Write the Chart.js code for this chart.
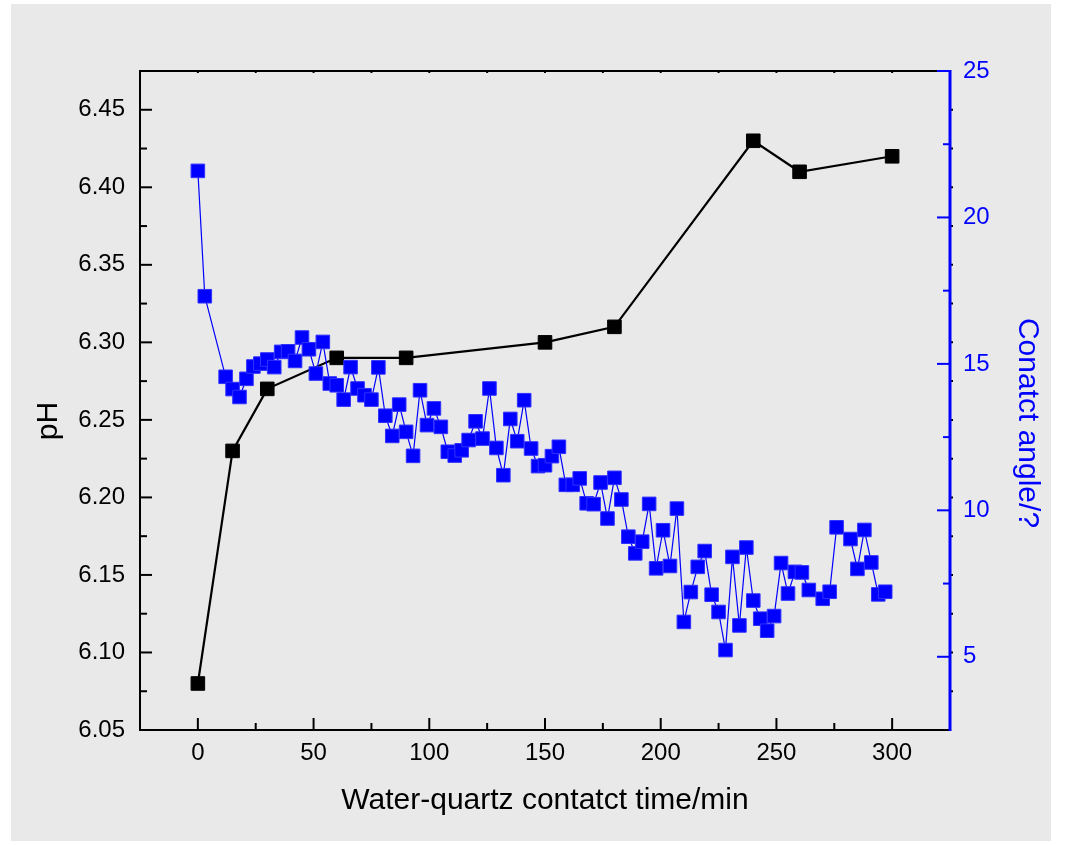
<!DOCTYPE html>
<html>
<head>
<meta charset="utf-8">
<script src="https://cdn.jsdelivr.net/npm/chart.js@4"></script>
<style>
  body { margin: 0; background: #fff; }
  #wrap { position: absolute; left: 11px; top: 4px; width: 1040px; height: 837px; background: #e9e9e9; }
</style>
</head>
<body>
<div id="wrap"><canvas id="chart" width="1040" height="837"></canvas></div>
<script>
// pH vs time (left axis)
const phTime = [0, 15, 30, 60, 90, 150, 180, 240, 260, 300];
const phValues = [6.08, 6.23, 6.27, 6.29, 6.29, 6.30, 6.31, 6.43, 6.41, 6.42];

// contact angle vs time (right axis)
const angleTime = [0, 3, 12, 15, 18, 21, 24, 27, 30, 33, 36, 39, 42, 45, 48, 51, 54, 57, 60, 63,
  66, 69, 72, 75, 78, 81, 84, 87, 90, 93, 96, 99, 102, 105, 108, 111, 114, 117, 120, 123,
  126, 129, 132, 135, 138, 141, 144, 147, 150, 153, 156, 159, 162, 165, 168, 171, 174, 177, 180, 183,
  186, 189, 192, 195, 198, 201, 204, 207, 210, 213, 216, 219, 222, 225, 228, 231, 234, 237, 240, 243,
  246, 249, 252, 255, 258, 261, 264, 270, 273, 276, 282, 285, 288, 291, 294, 297];
const angleValues = [21.59, 17.31, 14.56, 14.14, 13.87, 14.49, 14.91, 15.01, 15.15, 14.89, 15.41, 15.43, 15.10, 15.90, 15.50, 14.67, 15.75, 14.33, 14.27, 13.78,
  14.89, 14.16, 13.93, 13.78, 14.88, 13.23, 12.54, 13.61, 12.68, 11.86, 14.10, 12.91, 13.48, 12.85, 12.00, 11.87, 12.05, 12.40, 13.04, 12.45,
  14.16, 12.13, 11.20, 13.12, 12.36, 13.76, 12.11, 11.51, 11.54, 11.85, 12.17, 10.87, 10.87, 11.09, 10.24, 10.21, 10.95, 9.72, 11.11, 10.37,
  9.10, 8.53, 8.93, 10.22, 8.02, 9.32, 8.10, 10.06, 6.19, 7.21, 8.07, 8.61, 7.12, 6.53, 5.23, 8.41, 6.07, 8.73, 6.92, 6.30,
  5.89, 6.39, 8.20, 7.16, 7.90, 7.88, 7.28, 6.98, 7.22, 9.42, 9.02, 8.00, 9.33, 8.22, 7.13, 7.22];

const xTicks = [0, 50, 100, 150, 200, 250, 300];
const phTicks = [6.05, 6.10, 6.15, 6.20, 6.25, 6.30, 6.35, 6.40, 6.45];
const angleTicks = [5, 10, 15, 20, 25];

const FONT = "'Liberation Sans', Arial, sans-serif";
const BLUE = '#0000ff';

function setTicks(list) {
  return scale => { scale.ticks = list.map(v => ({ value: v })); };
}

// Origin-style frame, inward ticks and rotated axis titles
const framePlugin = {
  id: 'frame',
  afterDraw(chart) {
    const { ctx, chartArea: a, scales: { x, y, y2 } } = chart;
    ctx.save();
    const line = (x1, y1, x2, y2_, color, w) => {
      ctx.strokeStyle = color;
      ctx.lineWidth = w;
      ctx.beginPath();
      ctx.moveTo(x1, y1);
      ctx.lineTo(x2, y2_);
      ctx.stroke();
    };
    line(a.left - 1, a.top, a.right, a.top, '#000', 2);
    line(a.left - 1, a.bottom, a.right, a.bottom, '#000', 2);
    line(a.left, a.top, a.left, a.bottom + 1, '#000', 2);

    // bottom ticks
    xTicks.forEach(v => {
      const px = x.getPixelForValue(v);
      line(px, a.bottom, px, a.bottom - 12, '#000', 2);
      line(px, a.top, px, a.top + 2, '#000', 2);
      const m = x.getPixelForValue(v + 25);
      if (m < a.right - 2) {
        line(m, a.bottom, m, a.bottom - 7, '#000', 2);
        line(m, a.top, m, a.top + 2, '#000', 2);
      }
    });
    // left ticks
    phTicks.forEach(v => {
      const py = y.getPixelForValue(v);
      if (py < a.bottom - 2) line(a.left, py, a.left + 12, py, '#000', 2);
      const m = y.getPixelForValue(v + 0.025);
      if (m > a.top + 2) line(a.left, m, a.left + 7, m, '#000', 2);
      [py, m].forEach(p => { if (p > a.top + 2 && p < a.bottom - 2) line(a.right + 1, p, a.right + 3, p, '#000', 2); });
    });
    // right axis
    line(a.right, a.top - 1, a.right, a.bottom + 1, BLUE, 3);
    angleTicks.forEach(v => {
      const py = y2.getPixelForValue(v);
      line(a.right, py, a.right - 13, py, BLUE, 2);
      const m = y2.getPixelForValue(v - 2.5);
      if (m < a.bottom - 2) line(a.right, m, a.right - 7, m, BLUE, 2);
    });

    // y titles
    ctx.font = '30px ' + FONT;
    ctx.textAlign = 'center';
    ctx.textBaseline = 'middle';
    ctx.fillStyle = '#000';
    ctx.translate(38, 417);
    ctx.rotate(-Math.PI / 2);
    ctx.fillText('pH', 0, 0);
    ctx.setTransform(1, 0, 0, 1, 0, 0);
    ctx.fillStyle = BLUE;
    ctx.translate(1016, 419);
    ctx.rotate(Math.PI / 2);
    ctx.fillText('Conatct angle/?', 0, 0);
    ctx.restore();
  }
};

new Chart(document.getElementById('chart'), {
  type: 'line',
  data: {
    datasets: [
      {
        label: 'Contact angle',
        data: angleTime.map((t, i) => ({ x: t, y: angleValues[i] })),
        yAxisID: 'y2',
        borderColor: BLUE,
        borderWidth: 1.2,
        backgroundColor: BLUE,
        pointStyle: 'rect',
        pointRadius: 9.6,
        pointBorderColor: '#3030ff',
        pointBorderWidth: 1
      },
      {
        label: 'pH',
        data: phTime.map((t, i) => ({ x: t, y: phValues[i] })),
        yAxisID: 'y',
        borderColor: '#000',
        borderWidth: 2.2,
        backgroundColor: '#000',
        pointStyle: 'rect',
        pointRadius: 9.6,
        pointBorderColor: '#000',
        pointBorderWidth: 1
      }
    ]
  },
  options: {
    responsive: false,
    animation: false,
    layout: { padding: { top: 67, left: 0, right: 0, bottom: 0 } },
    plugins: { legend: { display: false }, tooltip: { enabled: false } },
    scales: {
      x: {
        type: 'linear',
        position: 'bottom',
        min: -25,
        max: 325,
        afterBuildTicks: setTicks(xTicks),
        afterFit: s => { s.height = 111; },
        grid: { display: false, drawTicks: false },
        border: { display: false },
        ticks: { color: '#000', padding: 9, maxRotation: 0, font: { family: FONT, size: 24 } },
        title: {
          display: true,
          text: 'Water-quartz contatct time/min',
          color: '#000',
          padding: { top: 0, bottom: 22 },
          font: { family: FONT, size: 30 }
        }
      },
      y: {
        position: 'left',
        min: 6.05,
        max: 6.475,
        afterBuildTicks: setTicks(phTicks),
        afterFit: s => { s.width = 129; },
        grid: { display: false, drawTicks: false },
        border: { display: false },
        ticks: { color: '#000', padding: 15, font: { family: FONT, size: 24 }, callback: v => v.toFixed(2) }
      },
      y2: {
        position: 'right',
        min: 2.5,
        max: 25,
        afterBuildTicks: setTicks(angleTicks),
        afterFit: s => { s.width = 101; },
        grid: { display: false, drawTicks: false },
        border: { display: false },
        ticks: { color: BLUE, padding: 13, font: { family: FONT, size: 24 } }
      }
    }
  },
  plugins: [framePlugin]
});
</script>
</body>
</html>
